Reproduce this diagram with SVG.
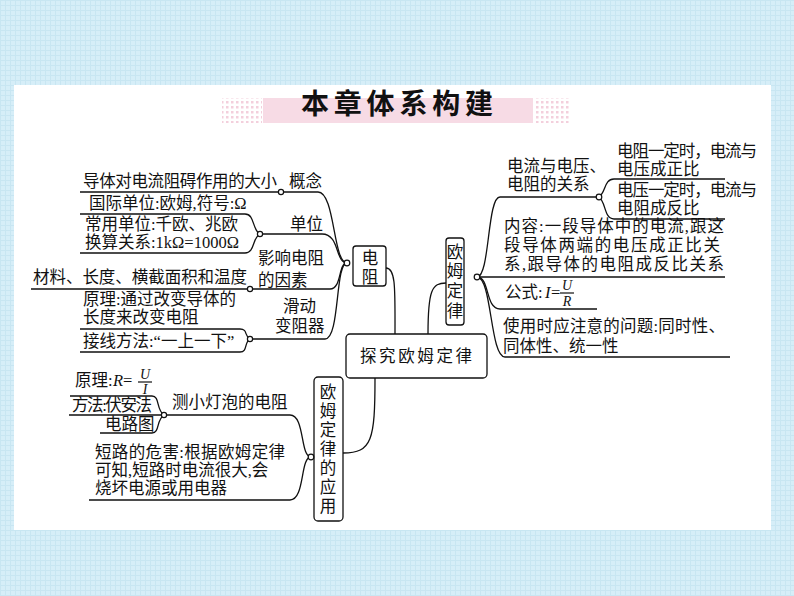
<svg xmlns="http://www.w3.org/2000/svg" width="794" height="596" viewBox="0 0 794 596">
<defs>
<pattern id="bg" width="5" height="5" patternUnits="userSpaceOnUse">
<rect width="5" height="5" fill="#d6eef8"/>
<path d="M0 0.5H5M0.5 0V5" stroke="#c8e6f2" stroke-width="1"/>
</pattern>
<pattern id="dots" width="5" height="5" patternUnits="userSpaceOnUse">
<rect x="1" y="1" width="2.5" height="2.5" fill="#f3cfdc"/>
</pattern>
<style>
text{font-family:"Liberation Serif","Noto Sans CJK SC",serif;font-size:16.5px;fill:#111}
.c{text-anchor:middle}
.ln{fill:none;stroke:#111;stroke-width:1.3}
.box{fill:#fff;stroke:#111;stroke-width:1.3}
.dot{fill:#fff;stroke:#111;stroke-width:1.2}
.i{font-style:italic}
</style>
</defs>
<rect width="794" height="596" fill="url(#bg)"/>
<rect x="14" y="85" width="757" height="445" fill="#fff"/>
<g id="title">
<rect x="222" y="98" width="40" height="25" fill="url(#dots)"/>
<rect x="263" y="98" width="270" height="25" fill="#f7dbe5"/>
<rect x="534" y="98" width="36" height="25" fill="url(#dots)"/>
<text x="397" y="114" class="c" style="font-size:28px;font-weight:bold;font-family:'Noto Sans CJK SC',sans-serif" textLength="192">本章体系构建</text>
</g>
<g id="connectors">
<path class="ln" d="M80 192H281M281 192H318C335 192 333 263 347 263"/>
<path class="ln" d="M80 214H245C255 214 252 230 260 234C252 238 255 253 245 253H80"/>
<path class="ln" d="M260 234H322C340 234 335 263 347 263"/>
<path class="ln" d="M31 289H330C342 289 338 263 347 263"/>
<path class="ln" d="M80 329H240C248 329 244 336 250 339C244 342 248 352 240 352H80"/>
<path class="ln" d="M250 339H325C340 339 335 263 347 263"/>
<path class="ln" d="M386 268C396 268 395 290 395 334"/>
<path class="ln" d="M428 334C428 290 432 283 446 283"/>
<path class="ln" d="M477 277C490 277 487 197 500 197H599"/>
<path class="ln" d="M599 197C606 192 604 179 614 179H725M599 197C606 202 604 219 614 219H725"/>
<path class="ln" d="M477 277H725"/>
<path class="ln" d="M477 277C490 277 485 309 500 309H597"/>
<path class="ln" d="M477 277C492 277 490 357 505 357H730"/>
<path class="ln" d="M375 378C375 440 372 453 343 453"/>
<path class="ln" d="M311 457C300 457 305 415 290 415H164"/>
<path class="ln" d="M311 457C300 457 305 500 290 500H89"/>
<path class="ln" d="M70 396H152C160 396 156 410 164 415C156 420 160 433 152 433H100M69 415H164"/>
</g>
<g id="n1"><circle class="dot" cx="281" cy="192" r="2.6"/><text x="83" y="187" textLength="194">导体对电流阻碍作用的大小</text><text x="289" y="187">概念</text></g>
<g id="n2"><circle class="dot" cx="260" cy="234" r="2.6"/><text x="89" y="209">国际单位:欧姆,符号:Ω</text><text x="85" y="230">常用单位:千欧、兆欧</text><text x="85" y="248">换算关系:1kΩ=1000Ω</text><text x="290" y="230">单位</text></g>
<g id="n3"><circle class="dot" cx="250" cy="289" r="2.6"/><text x="33" y="283" textLength="214">材料、长度、横截面积和温度</text><text x="258" y="264">影响电阻</text><text x="258" y="286">的因素</text></g>
<g id="n4"><circle class="dot" cx="250" cy="339" r="2.6"/><text x="83" y="305">原理:通过改变导体的</text><text x="83" y="323">长度来改变电阻</text><text x="83" y="347">接线方法:“一上一下”</text><text x="283" y="312">滑动</text><text x="275" y="332">变阻器</text></g>
<g id="dianzu"><circle class="dot" cx="347" cy="263" r="2.8"/><rect class="box" x="353" y="246" width="33" height="40" rx="3"/><text x="370" y="264" class="c">电</text><text x="370" y="283" class="c">阻</text></g>
<g id="center"><rect class="box" x="346" y="334" width="141" height="44" rx="4"/><text x="416" y="362" class="c" textLength="112">探究欧姆定律</text></g>
<g id="oumu"><rect class="box" x="446" y="238" width="18" height="87" rx="3"/><circle class="dot" cx="477" cy="277" r="2.8"/>
<text x="455" y="258" class="c">欧</text><text x="455" y="277" class="c">姆</text><text x="455" y="297" class="c">定</text><text x="455" y="317" class="c">律</text></g>
<g id="r1"><circle class="dot" cx="599" cy="197" r="2.8"/><text x="507" y="172">电流与电压、</text><text x="507" y="190">电阻的关系</text>
<text x="617" y="157" textLength="140">电阻一定时，电流与</text><text x="617" y="175">电压成正比</text><text x="617" y="196" textLength="140">电压一定时，电流与</text><text x="617" y="214">电阻成反比</text></g>
<g id="r2"><text x="504" y="232" textLength="220">内容:一段导体中的电流,跟这</text><text x="504" y="251" textLength="216">段导体两端的电压成正比关</text><text x="504" y="270" textLength="220">系,跟导体的电阻成反比关系</text></g>
<g id="r3"><text x="505" y="298">公式:</text><text x="545" y="298" class="i">I</text><text x="551" y="298">=</text><text x="567" y="290" class="c i" style="font-size:14px">U</text><line x1="560" y1="293" x2="574" y2="293" stroke="#111" stroke-width="1.2"/><text x="567" y="306" class="c i" style="font-size:14px">R</text></g>
<g id="r4"><text x="503" y="332" textLength="222">使用时应注意的问题:同时性、</text><text x="503" y="352">同体性、统一性</text></g>
<g id="app"><rect class="box" x="314" y="377" width="29" height="144" rx="4"/><circle class="dot" cx="311" cy="457" r="2.8"/>
<text x="328" y="398" class="c">欧</text><text x="328" y="417" class="c">姆</text><text x="328" y="436" class="c">定</text><text x="328" y="455" class="c">律</text><text x="328" y="474" class="c">的</text><text x="328" y="493" class="c">应</text><text x="328" y="512" class="c">用</text></g>
<g id="b1"><circle class="dot" cx="164" cy="415" r="2.6"/><text x="172" y="408">测小灯泡的电阻</text>
<text x="75" y="386">原理:</text><text x="113" y="386" class="i">R</text><text x="123" y="386">=</text><text x="145" y="379" class="c i" style="font-size:14px">U</text><line x1="138" y1="382" x2="152" y2="382" stroke="#111" stroke-width="1.2"/><text x="145" y="394" class="c i" style="font-size:14px">I</text>
<text x="72" y="411" textLength="80">方法:伏安法</text><text x="105" y="430">电路图</text></g>
<g id="b2"><text x="95" y="458" textLength="190">短路的危害:根据欧姆定律</text><text x="95" y="476">可知,短路时电流很大,会</text><text x="95" y="494">烧坏电源或用电器</text></g>
</svg>
